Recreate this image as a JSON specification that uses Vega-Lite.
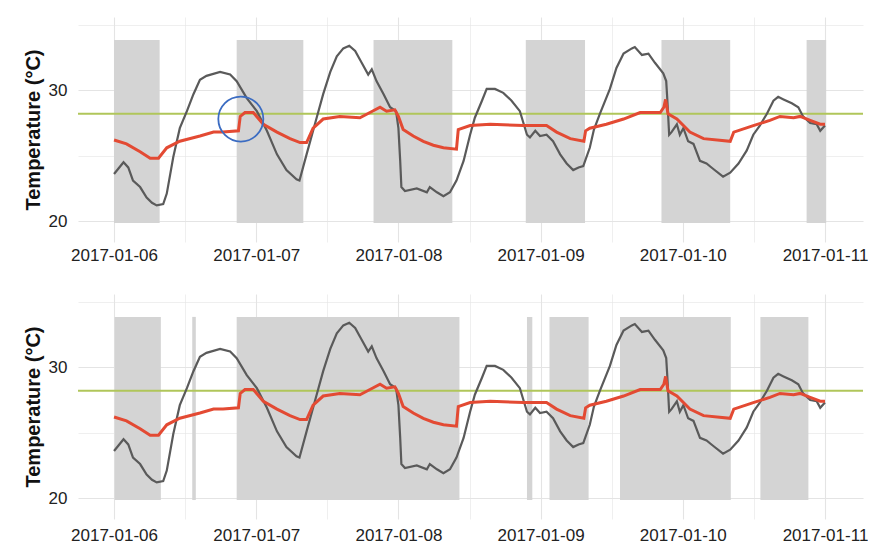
{
  "$schema": "https://vega.github.io/schema/vega-lite/v6.json",
  "padding": {"left": 23, "top": 17, "right": 0, "bottom": 0},
  "background": "white",
  "spacing": 31,
  "config": {
    "view": {"stroke": null},
    "font": "Liberation Sans",
    "axis": {
      "labelFont": "Liberation Sans",
      "titleFont": "Liberation Sans",
      "labelColor": "#222222",
      "titleColor": "#111111",
      "gridColor": "#e4e4e4",
      "domain": false,
      "ticks": false
    }
  },
  "datasets": {
    "outdoor": [
      {"t": "2017-01-06T00:00Z", "v": 23.6}, {"t": "2017-01-06T01:36Z", "v": 24.5}, {"t": "2017-01-06T02:24Z", "v": 24.1},
      {"t": "2017-01-06T03:12Z", "v": 23.1}, {"t": "2017-01-06T04:24Z", "v": 22.6}, {"t": "2017-01-06T05:30Z", "v": 21.8},
      {"t": "2017-01-06T06:24Z", "v": 21.4}, {"t": "2017-01-06T07:12Z", "v": 21.2}, {"t": "2017-01-06T08:18Z", "v": 21.3},
      {"t": "2017-01-06T08:54Z", "v": 22.1}, {"t": "2017-01-06T10:00Z", "v": 24.9}, {"t": "2017-01-06T11:06Z", "v": 27.1},
      {"t": "2017-01-06T12:18Z", "v": 28.4}, {"t": "2017-01-06T13:24Z", "v": 29.7}, {"t": "2017-01-06T14:30Z", "v": 30.8},
      {"t": "2017-01-06T15:36Z", "v": 31.1}, {"t": "2017-01-06T17:54Z", "v": 31.4}, {"t": "2017-01-06T19:36Z", "v": 31.2},
      {"t": "2017-01-06T20:42Z", "v": 30.7}, {"t": "2017-01-06T22:24Z", "v": 29.4}, {"t": "2017-01-07T00:06Z", "v": 28.4},
      {"t": "2017-01-07T01:48Z", "v": 26.9}, {"t": "2017-01-07T03:30Z", "v": 25.1}, {"t": "2017-01-07T05:06Z", "v": 23.9},
      {"t": "2017-01-07T06:48Z", "v": 23.2}, {"t": "2017-01-07T07:18Z", "v": 23.1}, {"t": "2017-01-07T08:30Z", "v": 25.1},
      {"t": "2017-01-07T10:12Z", "v": 27.9}, {"t": "2017-01-07T11:18Z", "v": 29.7}, {"t": "2017-01-07T12:30Z", "v": 31.4},
      {"t": "2017-01-07T13:36Z", "v": 32.6}, {"t": "2017-01-07T14:42Z", "v": 33.2}, {"t": "2017-01-07T15:42Z", "v": 33.4},
      {"t": "2017-01-07T16:42Z", "v": 33.0}, {"t": "2017-01-07T17:48Z", "v": 32.1}, {"t": "2017-01-07T18:54Z", "v": 31.2},
      {"t": "2017-01-07T19:30Z", "v": 31.6}, {"t": "2017-01-07T20:18Z", "v": 30.7}, {"t": "2017-01-07T21:30Z", "v": 29.7},
      {"t": "2017-01-07T22:36Z", "v": 28.7}, {"t": "2017-01-07T23:36Z", "v": 28.4}, {"t": "2017-01-08T00:00Z", "v": 27.1},
      {"t": "2017-01-08T00:18Z", "v": 24.6}, {"t": "2017-01-08T00:30Z", "v": 22.6}, {"t": "2017-01-08T01:06Z", "v": 22.3},
      {"t": "2017-01-08T03:06Z", "v": 22.5}, {"t": "2017-01-08T04:48Z", "v": 22.2}, {"t": "2017-01-08T05:18Z", "v": 22.6},
      {"t": "2017-01-08T06:30Z", "v": 22.2}, {"t": "2017-01-08T07:36Z", "v": 21.9}, {"t": "2017-01-08T08:42Z", "v": 22.2},
      {"t": "2017-01-08T09:48Z", "v": 23.1}, {"t": "2017-01-08T11:00Z", "v": 24.6}, {"t": "2017-01-08T12:06Z", "v": 26.6},
      {"t": "2017-01-08T12:54Z", "v": 27.9}, {"t": "2017-01-08T14:06Z", "v": 29.2}, {"t": "2017-01-08T14:54Z", "v": 30.1},
      {"t": "2017-01-08T16:18Z", "v": 30.1}, {"t": "2017-01-08T17:42Z", "v": 29.8}, {"t": "2017-01-08T19:06Z", "v": 29.2},
      {"t": "2017-01-08T20:30Z", "v": 28.4}, {"t": "2017-01-08T21:42Z", "v": 26.6}, {"t": "2017-01-08T22:12Z", "v": 26.4},
      {"t": "2017-01-08T23:06Z", "v": 26.9}, {"t": "2017-01-08T23:54Z", "v": 26.5}, {"t": "2017-01-09T01:00Z", "v": 26.6},
      {"t": "2017-01-09T02:06Z", "v": 26.1}, {"t": "2017-01-09T03:18Z", "v": 25.1}, {"t": "2017-01-09T04:24Z", "v": 24.4},
      {"t": "2017-01-09T05:30Z", "v": 23.9}, {"t": "2017-01-09T06:24Z", "v": 24.1}, {"t": "2017-01-09T07:12Z", "v": 24.2},
      {"t": "2017-01-09T08:18Z", "v": 25.6}, {"t": "2017-01-09T09:00Z", "v": 27.0}, {"t": "2017-01-09T10:00Z", "v": 28.2},
      {"t": "2017-01-09T11:42Z", "v": 30.1}, {"t": "2017-01-09T12:48Z", "v": 31.7}, {"t": "2017-01-09T14:00Z", "v": 32.8},
      {"t": "2017-01-09T15:24Z", "v": 33.2}, {"t": "2017-01-09T15:54Z", "v": 33.3}, {"t": "2017-01-09T17:06Z", "v": 32.7},
      {"t": "2017-01-09T18:12Z", "v": 32.8}, {"t": "2017-01-09T19:18Z", "v": 32.1}, {"t": "2017-01-09T20:42Z", "v": 31.3},
      {"t": "2017-01-09T21:12Z", "v": 30.7}, {"t": "2017-01-09T21:24Z", "v": 29.2}, {"t": "2017-01-09T21:42Z", "v": 26.6},
      {"t": "2017-01-09T22:06Z", "v": 26.8}, {"t": "2017-01-09T23:00Z", "v": 27.4}, {"t": "2017-01-09T23:30Z", "v": 26.6},
      {"t": "2017-01-10T00:06Z", "v": 27.1}, {"t": "2017-01-10T00:54Z", "v": 26.1}, {"t": "2017-01-10T01:48Z", "v": 25.9},
      {"t": "2017-01-10T02:54Z", "v": 24.6}, {"t": "2017-01-10T04:00Z", "v": 24.4}, {"t": "2017-01-10T05:06Z", "v": 24.0},
      {"t": "2017-01-10T06:48Z", "v": 23.4}, {"t": "2017-01-10T08:00Z", "v": 23.7}, {"t": "2017-01-10T09:24Z", "v": 24.4},
      {"t": "2017-01-10T10:48Z", "v": 25.4}, {"t": "2017-01-10T11:54Z", "v": 26.6}, {"t": "2017-01-10T13:00Z", "v": 27.3},
      {"t": "2017-01-10T14:12Z", "v": 28.2}, {"t": "2017-01-10T15:18Z", "v": 29.2}, {"t": "2017-01-10T16:06Z", "v": 29.5},
      {"t": "2017-01-10T17:00Z", "v": 29.3}, {"t": "2017-01-10T18:24Z", "v": 29.0}, {"t": "2017-01-10T19:30Z", "v": 28.7},
      {"t": "2017-01-10T20:18Z", "v": 28.0}, {"t": "2017-01-10T21:30Z", "v": 27.5}, {"t": "2017-01-10T22:36Z", "v": 27.4},
      {"t": "2017-01-10T23:12Z", "v": 26.9}, {"t": "2017-01-11T00:00Z", "v": 27.3}
    ],
    "indoor": [
      {"t": "2017-01-06T00:00Z", "v": 26.2}, {"t": "2017-01-06T02:06Z", "v": 25.9}, {"t": "2017-01-06T04:24Z", "v": 25.3},
      {"t": "2017-01-06T06:06Z", "v": 24.8}, {"t": "2017-01-06T07:30Z", "v": 24.8}, {"t": "2017-01-06T08:54Z", "v": 25.6},
      {"t": "2017-01-06T11:06Z", "v": 26.1}, {"t": "2017-01-06T14:30Z", "v": 26.5}, {"t": "2017-01-06T16:48Z", "v": 26.8},
      {"t": "2017-01-06T18:24Z", "v": 26.8}, {"t": "2017-01-06T21:00Z", "v": 26.9}, {"t": "2017-01-06T21:18Z", "v": 28.0},
      {"t": "2017-01-06T22:06Z", "v": 28.3}, {"t": "2017-01-06T23:30Z", "v": 28.3}, {"t": "2017-01-07T01:12Z", "v": 27.4},
      {"t": "2017-01-07T03:30Z", "v": 26.8}, {"t": "2017-01-07T05:42Z", "v": 26.3}, {"t": "2017-01-07T07:24Z", "v": 26.0},
      {"t": "2017-01-07T08:30Z", "v": 26.0}, {"t": "2017-01-07T09:36Z", "v": 27.1}, {"t": "2017-01-07T11:18Z", "v": 27.8},
      {"t": "2017-01-07T14:06Z", "v": 28.0}, {"t": "2017-01-07T17:30Z", "v": 27.9}, {"t": "2017-01-07T19:12Z", "v": 28.3},
      {"t": "2017-01-07T20:54Z", "v": 28.7}, {"t": "2017-01-07T22:00Z", "v": 28.4}, {"t": "2017-01-07T23:24Z", "v": 28.5},
      {"t": "2017-01-08T00:00Z", "v": 28.0}, {"t": "2017-01-08T00:48Z", "v": 27.0}, {"t": "2017-01-08T02:30Z", "v": 26.5},
      {"t": "2017-01-08T04:12Z", "v": 26.1}, {"t": "2017-01-08T05:54Z", "v": 25.8}, {"t": "2017-01-08T07:36Z", "v": 25.6},
      {"t": "2017-01-08T09:48Z", "v": 25.5}, {"t": "2017-01-08T10:06Z", "v": 27.0}, {"t": "2017-01-08T12:06Z", "v": 27.3},
      {"t": "2017-01-08T15:30Z", "v": 27.4}, {"t": "2017-01-08T21:06Z", "v": 27.3}, {"t": "2017-01-09T01:00Z", "v": 27.3},
      {"t": "2017-01-09T02:42Z", "v": 26.8}, {"t": "2017-01-09T05:00Z", "v": 26.3}, {"t": "2017-01-09T07:18Z", "v": 26.1},
      {"t": "2017-01-09T07:36Z", "v": 26.9}, {"t": "2017-01-09T08:18Z", "v": 27.1}, {"t": "2017-01-09T11:06Z", "v": 27.4},
      {"t": "2017-01-09T14:00Z", "v": 27.8}, {"t": "2017-01-09T16:48Z", "v": 28.3}, {"t": "2017-01-09T20:12Z", "v": 28.3},
      {"t": "2017-01-09T20:48Z", "v": 28.7}, {"t": "2017-01-09T21:06Z", "v": 29.3}, {"t": "2017-01-09T21:30Z", "v": 28.2},
      {"t": "2017-01-09T23:00Z", "v": 27.8}, {"t": "2017-01-10T01:12Z", "v": 26.8}, {"t": "2017-01-10T03:30Z", "v": 26.3},
      {"t": "2017-01-10T08:00Z", "v": 26.1}, {"t": "2017-01-10T08:36Z", "v": 26.8}, {"t": "2017-01-10T11:54Z", "v": 27.3},
      {"t": "2017-01-10T14:42Z", "v": 27.7}, {"t": "2017-01-10T16:24Z", "v": 28.0}, {"t": "2017-01-10T18:42Z", "v": 27.9},
      {"t": "2017-01-10T19:48Z", "v": 28.0}, {"t": "2017-01-10T21:30Z", "v": 27.7}, {"t": "2017-01-10T23:12Z", "v": 27.4},
      {"t": "2017-01-11T00:00Z", "v": 27.4}
    ],
    "rectsTop": [
      {"t": "2017-01-06T00:00Z", "t2": "2017-01-06T07:42Z", "lo": 19.85, "hi": 33.85},
      {"t": "2017-01-06T20:42Z", "t2": "2017-01-07T07:57Z", "lo": 19.85, "hi": 33.85},
      {"t": "2017-01-07T19:48Z", "t2": "2017-01-08T09:06Z", "lo": 19.85, "hi": 33.85},
      {"t": "2017-01-08T21:30Z", "t2": "2017-01-09T07:30Z", "lo": 19.85, "hi": 33.85},
      {"t": "2017-01-09T20:24Z", "t2": "2017-01-10T08:00Z", "lo": 19.85, "hi": 33.85},
      {"t": "2017-01-10T20:54Z", "t2": "2017-01-11T00:12Z", "lo": 19.85, "hi": 33.85}
    ],
    "rectsBottom": [
      {"t": "2017-01-06T00:06Z", "t2": "2017-01-06T07:54Z", "lo": 19.85, "hi": 33.85},
      {"t": "2017-01-06T13:12Z", "t2": "2017-01-06T13:48Z", "lo": 19.85, "hi": 33.85},
      {"t": "2017-01-06T20:42Z", "t2": "2017-01-08T10:18Z", "lo": 19.85, "hi": 33.85},
      {"t": "2017-01-08T21:42Z", "t2": "2017-01-08T22:36Z", "lo": 19.85, "hi": 33.85},
      {"t": "2017-01-09T01:30Z", "t2": "2017-01-09T08:06Z", "lo": 19.85, "hi": 33.85},
      {"t": "2017-01-09T13:24Z", "t2": "2017-01-10T08:06Z", "lo": 19.85, "hi": 33.85},
      {"t": "2017-01-10T13:06Z", "t2": "2017-01-10T21:12Z", "lo": 19.85, "hi": 33.85}
    ],
    "threshold": [{"v": 28.2}],
    "highlight": [{"t": "2017-01-06T21:24Z", "v": 27.8}]
  },
  "vconcat": [
    {
      "width": 785,
      "height": 225,
      "layer": [
        {
          "data": {"name": "rectsTop"},
          "mark": {"type": "rect", "color": "#d4d4d4"},
          "encoding": {
            "x": {"field": "t", "type": "temporal", "title": null,
              "scale": {"type": "utc", "domain": [1483638900000, 1484115900000]},
              "axis": {"values": [1483660800000, 1483704000000, 1483747200000, 1483790400000, 1483833600000, 1483876800000, 1483920000000, 1483963200000, 1484006400000, 1484049600000, 1484092800000], "labelExpr": "utchours(datum.value) == 0 ? utcFormat(datum.value, '%Y-%m-%d') : ''", "gridWidth": {"condition": {"test": "utchours(datum.value) == 0", "value": 1.1}, "value": 0.6}, "labelFlush": false, "labelOverlap": false, "labelPadding": 5, "labelFontSize": 17, "title": null}},
            "x2": {"field": "t2"},
            "y": {"field": "lo", "type": "quantitative",
              "scale": {"domain": [18.4, 35.6], "nice": false, "zero": false},
              "axis": {"values": [20, 25, 30, 35], "labelExpr": "datum.value % 10 == 0 ? datum.label : ''", "gridWidth": {"condition": {"test": "datum.value % 10 == 0", "value": 1.1}, "value": 0.6}, "labelPadding": 11, "labelFontSize": 17, "title": "Temperature (°C)", "titleFontSize": 20, "titleFontWeight": "bold", "titlePadding": 5}},
            "y2": {"field": "hi"}
          }
        },
        {
          "data": {"name": "threshold"},
          "mark": {"type": "rule", "color": "#b0c65a", "strokeWidth": 2},
          "encoding": {"y": {"field": "v", "type": "quantitative", "scale": {"domain": [18.4, 35.6], "nice": false, "zero": false}}}
        },
        {
          "data": {"name": "outdoor"},
          "mark": {"type": "line", "color": "#5a5a5a", "strokeWidth": 2.2},
          "encoding": {
            "x": {"field": "t", "type": "temporal", "title": null, "scale": {"type": "utc", "domain": [1483638900000, 1484115900000]}},
            "y": {"field": "v", "type": "quantitative", "scale": {"domain": [18.4, 35.6], "nice": false, "zero": false}}
          }
        },
        {
          "data": {"name": "indoor"},
          "mark": {"type": "line", "color": "#e34a33", "strokeWidth": 3},
          "encoding": {
            "x": {"field": "t", "type": "temporal", "title": null, "scale": {"type": "utc", "domain": [1483638900000, 1484115900000]}},
            "y": {"field": "v", "type": "quantitative", "scale": {"domain": [18.4, 35.6], "nice": false, "zero": false}}
          }
        },
        {
          "data": {"name": "highlight"},
          "mark": {"type": "point", "shape": "circle", "filled": false, "size": 2025, "stroke": "#3b6cc2", "strokeWidth": 1.8, "opacity": 1},
          "encoding": {
            "x": {"field": "t", "type": "temporal", "title": null, "scale": {"type": "utc", "domain": [1483638900000, 1484115900000]}},
            "y": {"field": "v", "type": "quantitative", "scale": {"domain": [18.4, 35.6], "nice": false, "zero": false}}
          }
        }
      ]
    },
    {
      "width": 785,
      "height": 225,
      "layer": [
        {
          "data": {"name": "rectsBottom"},
          "mark": {"type": "rect", "color": "#d4d4d4"},
          "encoding": {
            "x": {"field": "t", "type": "temporal", "title": null,
              "scale": {"type": "utc", "domain": [1483638900000, 1484115900000]},
              "axis": {"values": [1483660800000, 1483704000000, 1483747200000, 1483790400000, 1483833600000, 1483876800000, 1483920000000, 1483963200000, 1484006400000, 1484049600000, 1484092800000], "labelExpr": "utchours(datum.value) == 0 ? utcFormat(datum.value, '%Y-%m-%d') : ''", "gridWidth": {"condition": {"test": "utchours(datum.value) == 0", "value": 1.1}, "value": 0.6}, "labelFlush": false, "labelOverlap": false, "labelPadding": 8, "labelFontSize": 17, "title": null}},
            "x2": {"field": "t2"},
            "y": {"field": "lo", "type": "quantitative",
              "scale": {"domain": [18.4, 35.6], "nice": false, "zero": false},
              "axis": {"values": [20, 25, 30, 35], "labelExpr": "datum.value % 10 == 0 ? datum.label : ''", "gridWidth": {"condition": {"test": "datum.value % 10 == 0", "value": 1.1}, "value": 0.6}, "labelPadding": 11, "labelFontSize": 17, "title": "Temperature (°C)", "titleFontSize": 20, "titleFontWeight": "bold", "titlePadding": 5}},
            "y2": {"field": "hi"}
          }
        },
        {
          "data": {"name": "threshold"},
          "mark": {"type": "rule", "color": "#b0c65a", "strokeWidth": 2},
          "encoding": {"y": {"field": "v", "type": "quantitative", "scale": {"domain": [18.4, 35.6], "nice": false, "zero": false}}}
        },
        {
          "data": {"name": "outdoor"},
          "mark": {"type": "line", "color": "#5a5a5a", "strokeWidth": 2.2},
          "encoding": {
            "x": {"field": "t", "type": "temporal", "title": null, "scale": {"type": "utc", "domain": [1483638900000, 1484115900000]}},
            "y": {"field": "v", "type": "quantitative", "scale": {"domain": [18.4, 35.6], "nice": false, "zero": false}}
          }
        },
        {
          "data": {"name": "indoor"},
          "mark": {"type": "line", "color": "#e34a33", "strokeWidth": 3},
          "encoding": {
            "x": {"field": "t", "type": "temporal", "title": null, "scale": {"type": "utc", "domain": [1483638900000, 1484115900000]}},
            "y": {"field": "v", "type": "quantitative", "scale": {"domain": [18.4, 35.6], "nice": false, "zero": false}}
          }
        }
      ]
    }
  ]
}
